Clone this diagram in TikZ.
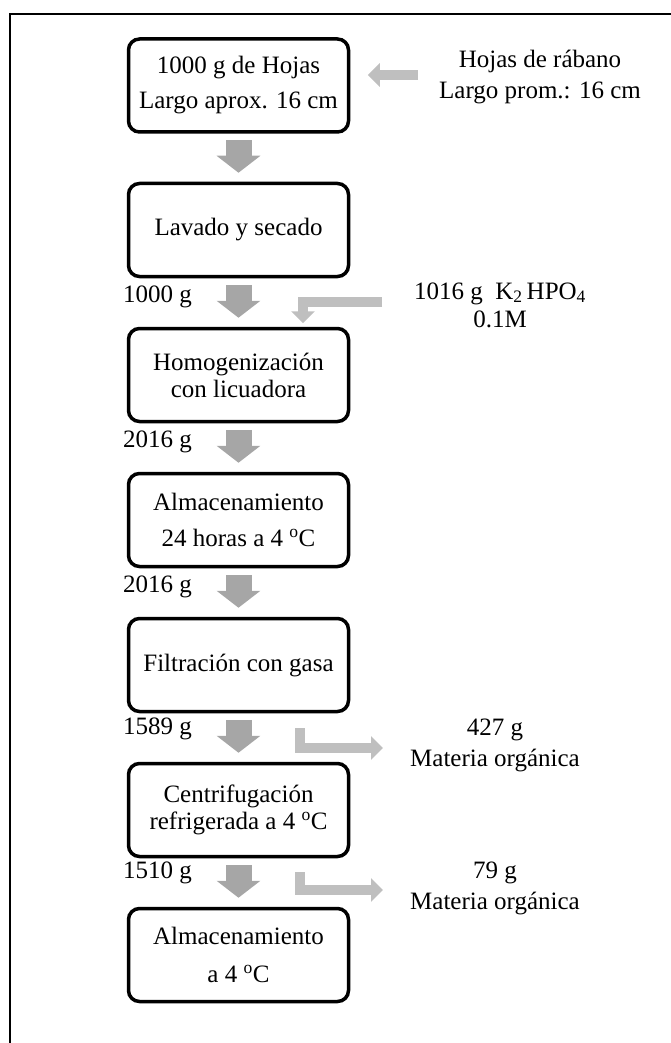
\documentclass[tikz,border=0pt]{standalone}
\usepackage{fontspec}
\setmainfont{Liberation Serif}
\usetikzlibrary{arrows.meta,calc}
\definecolor{flowgray}{RGB}{166,166,166}
\definecolor{sidegray}{RGB}{191,191,191}
\begin{document}
\begin{tikzpicture}[x=1pt,y=-1pt,
  stepbox/.style={draw=black, line width=3.5pt, rounded corners=11pt,
    minimum width=220pt, minimum height=93pt, align=center, inner sep=0pt,
    font=\fontsize{25}{35}\selectfont},
  mass/.style={anchor=west, inner sep=0pt, font=\fontsize{25}{30}\selectfont},
  note/.style={align=center, inner sep=0pt, font=\fontsize{25}{31}\selectfont},
  flow/.style={draw=flowgray, line width=26pt, -{Triangle[width=43pt,length=17pt]}},
  side/.style={draw=sidegray, line width=10pt, line join=miter,
    -{Triangle[width=23pt,length=12pt]}},
]
\useasboundingbox (0,0) rectangle (671,1043);
% frame (left and top edges)
\draw[line width=2pt] (10,1043) -- (10,14) -- (671,14);

% process steps
\node[stepbox] (b1) at (238.5,85.5) {1000 g de Hojas\\Largo aprox. 16 cm};
\node[stepbox] (b2) at (238.5,230) {Lavado y secado};
\node[stepbox, font=\fontsize{25}{27}\selectfont] (b3) at (238.5,375) {Homogenización\\con licuadora};
\node[stepbox, font=\fontsize{25}{36}\selectfont] (b4) at (238.5,520) {Almacenamiento\\24 horas a 4 \textsuperscript{o}C};
\node[stepbox] (b5) at (238.5,665) {Filtración con gasa};
\node[stepbox, font=\fontsize{25}{27}\selectfont] (b6) at (238.5,810) {Centrifugación\\refrigerada a 4 \textsuperscript{o}C};
\node[stepbox, font=\fontsize{25}{38}\selectfont] (b7) at (238.5,955) {Almacenamiento\\a 4 \textsuperscript{o}C};

% main flow
\foreach \a/\b in {b1/b2,b2/b3,b3/b4,b4/b5,b5/b6,b6/b7}
  \draw[flow] ($(\a.south)+(0,6.5)$) -- ($(\b.north)+(0,-9)$);

% masses
\node[mass] (m2) at (123,297) {1000 g};
\node[mass] (m3) at (123,442) {2016 g};
\node[mass] (m4) at (123,587) {2016 g};
\node[mass] (m5) at (123,729) {1589 g};
\node[mass] (m6) at (123,873) {1510 g};

% inputs and outputs
\node[note] (src) at (540,77.5) {Hojas de rábano\\Largo prom.: 16 cm};
\node[note, font=\fontsize{25}{28}\selectfont] (buf) at (500,305) {1016 g\ \ K\textsubscript{2}\,HPO\textsubscript{4}\\0.1M};
\node[note] (w1) at (495,745) {427 g\\Materia orgánica};
\node[note] (w2) at (495,888) {79 g\\Materia orgánica};

\coordinate (inA) at (418,75);
\draw[side] (inA) -- ($(b1.east |- inA)+(17.5,0)$);
\coordinate (inB) at (382,301.5);
\draw[side] (inB) -| ($(b3.north)+(64.5,-3.5)$);
\coordinate (outA) at (300,728);
\coordinate (outAend) at (383,748);
\draw[side] (outA) |- (outAend);
\coordinate (outB) at (300,872);
\coordinate (outBend) at (383,890);
\draw[side] (outB) |- (outBend);
\end{tikzpicture}
\end{document}
